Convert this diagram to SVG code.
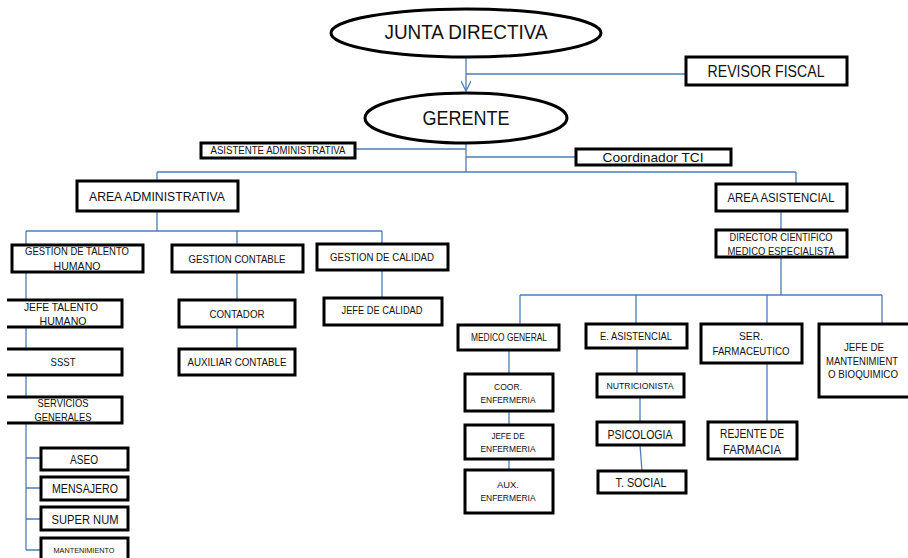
<svg xmlns="http://www.w3.org/2000/svg" width="908" height="558" viewBox="0 0 908 558">
<style>
.box{fill:#fff;stroke:#000;stroke-width:3;stroke-linejoin:miter}
.ln{stroke:#4a7ebb;stroke-width:1.3;fill:none}
.t{font-family:"Liberation Sans",Arial,sans-serif;fill:#111;text-anchor:middle}
</style>
<defs>
<marker id="arr" viewBox="0 0 12 10" refX="11" refY="5" markerWidth="12" markerHeight="10" markerUnits="userSpaceOnUse" orient="auto">
<path d="M1 0 L11 5 L1 10" fill="none" stroke="#4a7ebb" stroke-width="1.3"/>
</marker>
</defs>
<rect width="908" height="558" fill="#fff"/>
<g id="connectors">
<path class="ln" d="M466 57 V91" marker-end="url(#arr)"/>
<path class="ln" d="M466 74 H686"/>
<path class="ln" d="M466 143 V172 M355 149 H466 M466 157 H576"/>
<path class="ln" d="M157 172 H796 M157 172 V181 M796 172 V184"/>
<path class="ln" d="M157 211 V231 M26 231 H382 M26 231 V245 M237 231 V245 M382 231 V244"/>
<path class="ln" d="M26 272 V300 M26 327 V349 M26 375 V397 M26 423 V550"/>
<path class="ln" d="M26 458 H41 M26 488 H41 M26 519 H41 M26 550 H41"/>
<path class="ln" d="M237 272 V300 M237 327 V349 M382 270 V297"/>
<path class="ln" d="M781 211 V230 M781 257 V295 M520 295 H882"/>
<path class="ln" d="M520 295 V325 M636 295 V324 M767 295 V324 M882 295 V324"/>
<path class="ln" d="M509 350 V374 M509 411 V425 M509 459 V470"/>
<path class="ln" d="M637 348 V374 M640 397 V422 M640 445 L642 471 M767 363 V422"/>
</g>
<g id="junta"><ellipse class="box" cx="466" cy="33" rx="135" ry="24"/><text class="t" x="466" y="39" font-size="20" textLength="163" lengthAdjust="spacingAndGlyphs">JUNTA DIRECTIVA</text></g>
<g id="revisor"><rect class="box" x="686" y="57" width="161" height="28"/><text class="t" x="766" y="77" font-size="16" textLength="117" lengthAdjust="spacingAndGlyphs">REVISOR FISCAL</text></g>
<g id="gerente"><ellipse class="box" cx="466" cy="118" rx="101" ry="25"/><text class="t" x="466" y="125" font-size="21" textLength="87" lengthAdjust="spacingAndGlyphs">GERENTE</text></g>
<g id="asistente"><rect class="box" x="201" y="143" width="154" height="15"/><text class="t" x="278" y="154" font-size="10" textLength="135" lengthAdjust="spacingAndGlyphs">ASISTENTE ADMINISTRATIVA</text></g>
<g id="coordinador"><rect class="box" x="576" y="149" width="155" height="16"/><text class="t" x="653" y="162" font-size="13" textLength="101" lengthAdjust="spacingAndGlyphs">Coordinador  TCI</text></g>
<g id="area-adm"><rect class="box" x="77" y="181" width="161" height="30"/><text class="t" x="157" y="201" font-size="13" textLength="136" lengthAdjust="spacingAndGlyphs">AREA ADMINISTRATIVA</text></g>
<g id="area-asis"><rect class="box" x="716" y="184" width="131" height="27"/><text class="t" x="781" y="202" font-size="13" textLength="107" lengthAdjust="spacingAndGlyphs">AREA ASISTENCIAL</text></g>
<g id="gestion-th"><rect class="box" x="12" y="245" width="131" height="27"/><text class="t" x="77" y="255" font-size="11" textLength="104" lengthAdjust="spacingAndGlyphs">GESTION DE TALENTO</text><text class="t" x="77" y="270" font-size="11" textLength="47" lengthAdjust="spacingAndGlyphs">HUMANO</text></g>
<g id="gestion-contable"><rect class="box" x="172" y="245" width="131" height="27"/><text class="t" x="237" y="263" font-size="11" textLength="97" lengthAdjust="spacingAndGlyphs">GESTION CONTABLE</text></g>
<g id="gestion-calidad"><rect class="box" x="317" y="244" width="131" height="26"/><text class="t" x="382" y="261" font-size="11" textLength="104" lengthAdjust="spacingAndGlyphs">GESTION DE CALIDAD</text></g>
<g id="jefe-th"><path class="box" d="M7 300 H122 V327 H7"/><text class="t" x="61" y="311" font-size="11" textLength="74" lengthAdjust="spacingAndGlyphs">JEFE TALENTO</text><text class="t" x="63" y="325" font-size="11" textLength="47" lengthAdjust="spacingAndGlyphs">HUMANO</text></g>
<g id="ssst"><path class="box" d="M7 349 H122 V375 H7"/><text class="t" x="63" y="366" font-size="11" textLength="25" lengthAdjust="spacingAndGlyphs">SSST</text></g>
<g id="servicios"><path class="box" d="M7 397 H122 V423 H7"/><text class="t" x="63" y="407" font-size="11" textLength="51" lengthAdjust="spacingAndGlyphs">SERVICIOS</text><text class="t" x="63" y="421" font-size="11" textLength="57" lengthAdjust="spacingAndGlyphs">GENERALES</text></g>
<g id="aseo"><rect class="box" x="41" y="448" width="87" height="22"/><text class="t" x="84" y="464" font-size="13" textLength="28" lengthAdjust="spacingAndGlyphs">ASEO</text></g>
<g id="mensajero"><rect class="box" x="41" y="477" width="87" height="23"/><text class="t" x="85" y="493" font-size="13" textLength="66" lengthAdjust="spacingAndGlyphs">MENSAJERO</text></g>
<g id="supernum"><rect class="box" x="41" y="507" width="87" height="23"/><text class="t" x="85" y="524" font-size="13" textLength="67" lengthAdjust="spacingAndGlyphs">SUPER NUM</text></g>
<g id="mantenimiento"><rect class="box" x="41" y="538" width="87" height="24"/><text class="t" x="84" y="553" font-size="8" textLength="61" lengthAdjust="spacingAndGlyphs">MANTENIMIENTO</text></g>
<g id="contador"><rect class="box" x="179" y="300" width="116" height="27"/><text class="t" x="237" y="318" font-size="11" textLength="55" lengthAdjust="spacingAndGlyphs">CONTADOR</text></g>
<g id="aux-contable"><rect class="box" x="179" y="349" width="116" height="26"/><text class="t" x="237" y="366" font-size="11" textLength="99" lengthAdjust="spacingAndGlyphs">AUXILIAR CONTABLE</text></g>
<g id="jefe-calidad"><rect class="box" x="324" y="298" width="118" height="27"/><text class="t" x="382" y="314" font-size="11" textLength="81" lengthAdjust="spacingAndGlyphs">JEFE DE CALIDAD</text></g>
<g id="director"><rect class="box" x="716" y="230" width="131" height="27"/><text class="t" x="781" y="241" font-size="10.5" textLength="103" lengthAdjust="spacingAndGlyphs">DIRECTOR CIENTIFICO</text><text class="t" x="781" y="255" font-size="10.5" textLength="107" lengthAdjust="spacingAndGlyphs">MEDICO ESPECIALISTA</text></g>
<g id="medico-general"><rect class="box" x="458" y="325" width="101" height="25"/><text class="t" x="509" y="341" font-size="10" textLength="76" lengthAdjust="spacingAndGlyphs">MEDICO GENERAL</text></g>
<g id="e-asistencial"><rect class="box" x="586" y="324" width="101" height="24"/><text class="t" x="636" y="340" font-size="11" textLength="72" lengthAdjust="spacingAndGlyphs">E. ASISTENCIAL</text></g>
<g id="ser-farmaceutico"><rect class="box" x="701" y="324" width="101" height="39"/><text class="t" x="751" y="340" font-size="11" textLength="24" lengthAdjust="spacingAndGlyphs">SER.</text><text class="t" x="751" y="355" font-size="11" textLength="77" lengthAdjust="spacingAndGlyphs">FARMACEUTICO</text></g>
<g id="jefe-mantenimiento"><rect class="box" x="819" y="324" width="100" height="73"/><text class="t" x="864" y="351" font-size="11" textLength="40" lengthAdjust="spacingAndGlyphs">JEFE DE</text><text class="t" x="862" y="365" font-size="10.5" textLength="72" lengthAdjust="spacingAndGlyphs">MANTENIMIENT</text><text class="t" x="863" y="378" font-size="11" textLength="70" lengthAdjust="spacingAndGlyphs">O BIOQUIMICO</text></g>
<g id="coor-enfermeria"><rect class="box" x="465" y="374" width="88" height="37"/><text class="t" x="508" y="390" font-size="9.5" textLength="28" lengthAdjust="spacingAndGlyphs">COOR.</text><text class="t" x="508" y="403" font-size="9.5" textLength="55" lengthAdjust="spacingAndGlyphs">ENFERMERIA</text></g>
<g id="jefe-enfermeria"><rect class="box" x="465" y="425" width="88" height="34"/><text class="t" x="508" y="439" font-size="9.5" textLength="33" lengthAdjust="spacingAndGlyphs">JEFE DE</text><text class="t" x="508" y="452" font-size="9.5" textLength="55" lengthAdjust="spacingAndGlyphs">ENFERMERIA</text></g>
<g id="aux-enfermeria"><rect class="box" x="465" y="470" width="88" height="43"/><text class="t" x="508" y="488" font-size="9.5" textLength="22" lengthAdjust="spacingAndGlyphs">AUX.</text><text class="t" x="508" y="501" font-size="9.5" textLength="55" lengthAdjust="spacingAndGlyphs">ENFERMERIA</text></g>
<g id="nutricionista"><rect class="box" x="597" y="374" width="87" height="23"/><text class="t" x="640" y="389" font-size="9.5" textLength="67" lengthAdjust="spacingAndGlyphs">NUTRICIONISTA</text></g>
<g id="psicologia"><rect class="box" x="597" y="422" width="87" height="23"/><text class="t" x="640" y="439" font-size="13" textLength="65" lengthAdjust="spacingAndGlyphs">PSICOLOGIA</text></g>
<g id="t-social"><rect class="box" x="598" y="471" width="88" height="22"/><text class="t" x="641" y="487" font-size="13" textLength="51" lengthAdjust="spacingAndGlyphs">T. SOCIAL</text></g>
<g id="rejente"><rect class="box" x="708" y="422" width="89" height="37"/><text class="t" x="752" y="438" font-size="13" textLength="64" lengthAdjust="spacingAndGlyphs">REJENTE DE</text><text class="t" x="752" y="454" font-size="13" textLength="58" lengthAdjust="spacingAndGlyphs">FARMACIA</text></g>
</svg>
